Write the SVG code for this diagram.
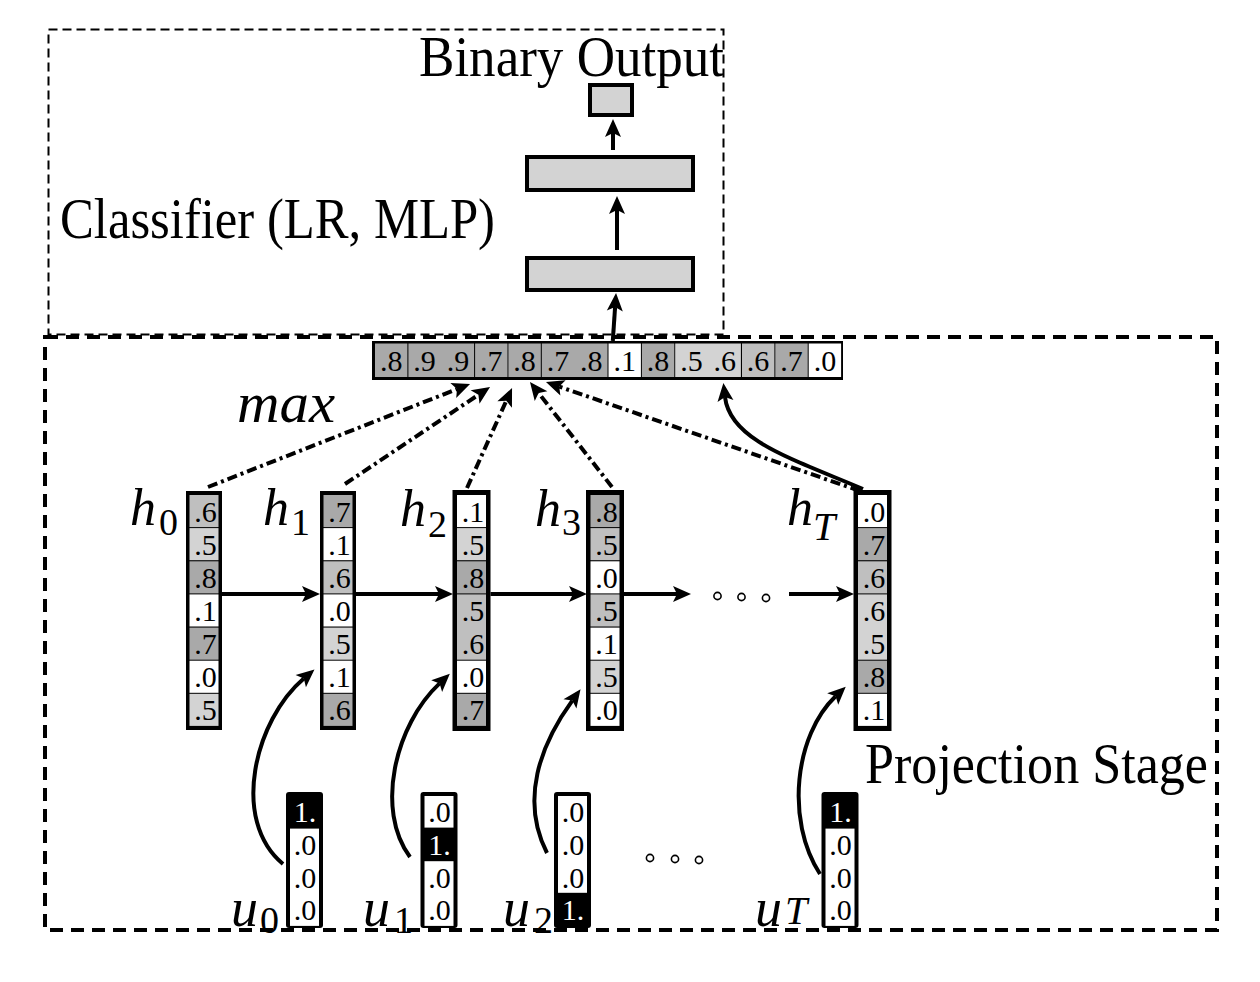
<svg xmlns="http://www.w3.org/2000/svg" width="1260" height="982" viewBox="0 0 1260 982">
<defs>
<style>
.lbl{font-family:"Liberation Serif",serif;fill:#000}
.it{font-style:italic}
.cell{font-family:"Liberation Serif",serif;font-size:30px;text-anchor:middle;fill:#000}
.cw{fill:#fff}
.conn{fill:none;stroke:#000;stroke-width:4}
.dd{stroke-dasharray:10 4 3 4}
.dk{fill:#a9a9a9}.md{fill:#bfbfbf}.lt{fill:#d3d3d3}.wh{fill:#fff}
.box{fill:#d3d3d3;stroke:#000;stroke-width:4}
.dot{fill:#fff;stroke:#000;stroke-width:1.6}
</style>
<marker id="ah" markerUnits="userSpaceOnUse" viewBox="-2 -10 24 20" markerWidth="24" markerHeight="20" refX="4" refY="0" orient="auto">
<path d="M0,-8 L18,0 L0,8 L4,0 Z" fill="#000"/>
</marker>
</defs>
<rect width="1260" height="982" fill="#fff"/>

<!-- containers -->
<g id="classifier-stage">
<rect x="48.5" y="29.5" width="675" height="305" fill="none" stroke="#000" stroke-width="2" stroke-dasharray="9 5"/>
<text class="lbl" x="60" y="238" font-size="57" textLength="435" lengthAdjust="spacingAndGlyphs">Classifier (LR, MLP)</text>
</g>
<g id="projection-stage">
<rect x="45" y="337" width="1172" height="593" fill="none" stroke="#000" stroke-width="4" stroke-dasharray="13 8"/>
<text class="lbl" x="865" y="783" font-size="57" textLength="343" lengthAdjust="spacingAndGlyphs">Projection Stage</text>
</g>
<g id="binary-output">
<text class="lbl" x="419" y="76" font-size="57" textLength="305" lengthAdjust="spacingAndGlyphs">Binary Output</text>
<rect class="box" x="590" y="85" width="42" height="30"/>
</g>
<g id="layer2"><rect class="box" x="527" y="157" width="166" height="33"/></g>
<g id="layer1"><rect class="box" x="527" y="258" width="166" height="32"/></g>

<!-- max-pooled vector -->
<g id="max-vector">
<rect x="372" y="341" width="471" height="39" fill="#000"/>
<rect class="dk" x="375" y="343.5" width="32.4" height="33.5"/>
<rect class="dk" x="408.4" y="343.5" width="65.7" height="33.5"/>
<rect class="dk" x="475.1" y="343.5" width="32.4" height="33.5"/>
<rect class="dk" x="508.4" y="343.5" width="32.4" height="33.5"/>
<rect class="dk" x="541.8" y="343.5" width="65.7" height="33.5"/>
<rect class="wh" x="608.5" y="343.5" width="32.4" height="33.5"/>
<rect class="dk" x="641.9" y="343.5" width="32.4" height="33.5"/>
<rect class="lt" x="675.2" y="343.5" width="65.7" height="33.5"/>
<rect class="md" x="742" y="343.5" width="32.4" height="33.5"/>
<rect class="dk" x="775.3" y="343.5" width="32.4" height="33.5"/>
<rect class="wh" x="808.7" y="343.5" width="32.4" height="33.5"/>
<text class="cell" y="371"><tspan x="391.2">.8</tspan><tspan x="424.5">.9</tspan><tspan x="457.9">.9</tspan><tspan x="491.3">.7</tspan><tspan x="524.6">.8</tspan><tspan x="558">.7</tspan><tspan x="591.3">.8</tspan><tspan x="624.7">.1</tspan><tspan x="658.1">.8</tspan><tspan x="691.4">.5</tspan><tspan x="724.8">.6</tspan><tspan x="758.1">.6</tspan><tspan x="791.5">.7</tspan><tspan x="824.9">.0</tspan></text>
<text class="lbl it" x="237" y="422" font-size="56" textLength="98" lengthAdjust="spacingAndGlyphs">max</text>
</g>

<!-- hidden states -->
<g id="h0">
<rect x="186" y="491" width="36" height="239" fill="#000"/>
<rect class="md" x="189.5" y="495" width="29" height="32.1"/>
<rect class="lt" x="189.5" y="528.1" width="29" height="32.1"/>
<rect class="dk" x="189.5" y="561.3" width="29" height="32.1"/>
<rect class="wh" x="189.5" y="594.4" width="29" height="32.1"/>
<rect class="dk" x="189.5" y="627.6" width="29" height="32.1"/>
<rect class="wh" x="189.5" y="660.7" width="29" height="32.1"/>
<rect class="lt" x="189.5" y="693.8" width="29" height="32.1"/>
<text class="cell"><tspan x="205.5" y="521.5">.6</tspan><tspan x="205.5" y="554.7">.5</tspan><tspan x="205.5" y="587.8">.8</tspan><tspan x="205.5" y="621">.1</tspan><tspan x="205.5" y="654.1">.7</tspan><tspan x="205.5" y="687.3">.0</tspan><tspan x="205.5" y="720.4">.5</tspan></text>
<text class="lbl it" font-size="52"><tspan x="130" y="525">h</tspan><tspan x="159" y="535" font-size="38" font-style="normal">0</tspan></text>
</g>
<g id="h1">
<rect x="320" y="491" width="36" height="239" fill="#000"/>
<rect class="dk" x="323.5" y="495" width="29" height="32.1"/>
<rect class="wh" x="323.5" y="528.1" width="29" height="32.1"/>
<rect class="md" x="323.5" y="561.3" width="29" height="32.1"/>
<rect class="wh" x="323.5" y="594.4" width="29" height="32.1"/>
<rect class="lt" x="323.5" y="627.6" width="29" height="32.1"/>
<rect class="wh" x="323.5" y="660.7" width="29" height="32.1"/>
<rect class="dk" x="323.5" y="693.8" width="29" height="32.1"/>
<text class="cell"><tspan x="339.5" y="521.5">.7</tspan><tspan x="339.5" y="554.7">.1</tspan><tspan x="339.5" y="587.8">.6</tspan><tspan x="339.5" y="621">.0</tspan><tspan x="339.5" y="654.1">.5</tspan><tspan x="339.5" y="687.3">.1</tspan><tspan x="339.5" y="720.4">.6</tspan></text>
<text class="lbl it" font-size="52"><tspan x="263" y="525">h</tspan><tspan x="291" y="535" font-size="38" font-style="normal">1</tspan></text>
</g>
<g id="h2">
<rect x="452.5" y="490" width="38" height="241" fill="#000"/>
<rect class="wh" x="457" y="495" width="29" height="32.1"/>
<rect class="lt" x="457" y="528.1" width="29" height="32.1"/>
<rect class="dk" x="457" y="561.3" width="29" height="32.1"/>
<rect class="md" x="457" y="594.4" width="29" height="65.3"/>
<rect class="wh" x="457" y="660.7" width="29" height="32.1"/>
<rect class="dk" x="457" y="693.8" width="29" height="32.1"/>
<text class="cell"><tspan x="473" y="521.5">.1</tspan><tspan x="473" y="554.7">.5</tspan><tspan x="473" y="587.8">.8</tspan><tspan x="473" y="621">.5</tspan><tspan x="473" y="654.1">.6</tspan><tspan x="473" y="687.3">.0</tspan><tspan x="473" y="720.4">.7</tspan></text>
<text class="lbl it" font-size="52"><tspan x="400" y="526">h</tspan><tspan x="428" y="537" font-size="38" font-style="normal">2</tspan></text>
</g>
<g id="h3">
<rect x="586" y="490" width="38" height="241" fill="#000"/>
<rect class="dk" x="590.5" y="495" width="29" height="32.1"/>
<rect class="md" x="590.5" y="528.1" width="29" height="32.1"/>
<rect class="wh" x="590.5" y="561.3" width="29" height="32.1"/>
<rect class="md" x="590.5" y="594.4" width="29" height="32.1"/>
<rect class="wh" x="590.5" y="627.6" width="29" height="32.1"/>
<rect class="lt" x="590.5" y="660.7" width="29" height="32.1"/>
<rect class="wh" x="590.5" y="693.8" width="29" height="32.1"/>
<text class="cell"><tspan x="606.5" y="521.5">.8</tspan><tspan x="606.5" y="554.7">.5</tspan><tspan x="606.5" y="587.8">.0</tspan><tspan x="606.5" y="621">.5</tspan><tspan x="606.5" y="654.1">.1</tspan><tspan x="606.5" y="687.3">.5</tspan><tspan x="606.5" y="720.4">.0</tspan></text>
<text class="lbl it" font-size="52"><tspan x="535" y="526">h</tspan><tspan x="562" y="535" font-size="38" font-style="normal">3</tspan></text>
</g>
<g id="hT">
<rect x="853.5" y="490" width="38" height="241" fill="#000"/>
<rect class="wh" x="858" y="495" width="29" height="32.1"/>
<rect class="dk" x="858" y="528.1" width="29" height="32.1"/>
<rect class="md" x="858" y="561.3" width="29" height="32.1"/>
<rect class="lt" x="858" y="594.4" width="29" height="65.3"/>
<rect class="dk" x="858" y="660.7" width="29" height="32.1"/>
<rect class="wh" x="858" y="693.8" width="29" height="32.1"/>
<text class="cell"><tspan x="874" y="521.5">.0</tspan><tspan x="874" y="554.7">.7</tspan><tspan x="874" y="587.8">.6</tspan><tspan x="874" y="621">.6</tspan><tspan x="874" y="654.1">.5</tspan><tspan x="874" y="687.3">.8</tspan><tspan x="874" y="720.4">.1</tspan></text>
<text class="lbl it" font-size="52"><tspan x="787" y="525">h</tspan><tspan x="813" y="540" font-size="40">T</tspan></text>
</g>

<!-- inputs -->
<g id="u0">
<rect x="286" y="792" width="37" height="136" rx="3" fill="#000"/>
<rect class="wh" x="290" y="828.6" width="29" height="97.3"/>
<text class="cell"><tspan class="cw" x="305" y="822.3">1.</tspan><tspan x="305" y="854.9">.0</tspan><tspan x="305" y="887.5">.0</tspan><tspan x="305" y="920.1">.0</tspan></text>
<text class="lbl it" font-size="54"><tspan x="231" y="926">u</tspan><tspan x="260" y="933" font-size="38" font-style="normal">0</tspan></text>
</g>
<g id="u1">
<rect x="420.5" y="792" width="37" height="136" rx="3" fill="#000"/>
<rect class="wh" x="424.5" y="796" width="29" height="31.6"/>
<rect class="wh" x="424.5" y="861.2" width="29" height="64.7"/>
<text class="cell"><tspan x="439.5" y="822.3">.0</tspan><tspan class="cw" x="439.5" y="854.9">1.</tspan><tspan x="439.5" y="887.5">.0</tspan><tspan x="439.5" y="920.1">.0</tspan></text>
<text class="lbl it" font-size="54"><tspan x="363" y="926">u</tspan><tspan x="394" y="933" font-size="38" font-style="normal">1</tspan></text>
</g>
<g id="u2">
<rect x="554" y="792" width="37" height="136" rx="3" fill="#000"/>
<rect class="wh" x="558" y="796" width="29" height="96.8"/>
<text class="cell"><tspan x="573" y="822.3">.0</tspan><tspan x="573" y="854.9">.0</tspan><tspan x="573" y="887.5">.0</tspan><tspan class="cw" x="573" y="920.1">1.</tspan></text>
<text class="lbl it" font-size="54"><tspan x="503" y="926">u</tspan><tspan x="534" y="933" font-size="38" font-style="normal">2</tspan></text>
</g>
<g id="uT">
<rect x="821.5" y="792" width="37" height="136" rx="3" fill="#000"/>
<rect class="wh" x="825.5" y="828.6" width="29" height="97.3"/>
<text class="cell"><tspan class="cw" x="840.5" y="822.3">1.</tspan><tspan x="840.5" y="854.9">.0</tspan><tspan x="840.5" y="887.5">.0</tspan><tspan x="840.5" y="920.1">.0</tspan></text>
<text class="lbl it" font-size="54"><tspan x="755" y="926">u</tspan><tspan x="785" y="924" font-size="40">T</tspan></text>
</g>

<!-- ellipsis dots -->
<g id="ellipsis-h">
<circle class="dot" cx="717.5" cy="596" r="3.6"/>
<circle class="dot" cx="741.5" cy="597" r="3.6"/>
<circle class="dot" cx="766" cy="598" r="3.6"/>
</g>
<g id="ellipsis-u">
<circle class="dot" cx="650" cy="858" r="3.6"/>
<circle class="dot" cx="675" cy="859" r="3.6"/>
<circle class="dot" cx="699" cy="860" r="3.6"/>
</g>

<!-- connectors -->
<g id="connectors">
<path class="conn" d="M613,150 L613,133" marker-end="url(#ah)"/>
<path class="conn" d="M617,250 L617,210" marker-end="url(#ah)"/>
<path class="conn" d="M612.8,341 L615.1,307" marker-end="url(#ah)"/>

<path class="conn" d="M222,594 L306,594" marker-end="url(#ah)"/>
<path class="conn" d="M356,594 L439,594" marker-end="url(#ah)"/>
<path class="conn" d="M490.5,594 L573,594" marker-end="url(#ah)"/>
<path class="conn" d="M624,594 L677,594" marker-end="url(#ah)"/>
<path class="conn" d="M789,594 L840,594" marker-end="url(#ah)"/>

<path class="conn dd" d="M208,487 L457,389.1" marker-end="url(#ah)"/>
<path class="conn dd" d="M345,484 L478.4,394.8" marker-end="url(#ah)"/>
<path class="conn dd" d="M467,488 L506.3,400.8" marker-end="url(#ah)"/>
<path class="conn dd" d="M612,487 L538.6,393" marker-end="url(#ah)"/>
<path class="conn dd" d="M860,491 L559.2,386.6" marker-end="url(#ah)"/>
<path class="conn" d="M863,489 C 790,458 730,440 725,397" marker-end="url(#ah)"/>

<path class="conn" d="M283,864 C 230,820 255,720 303.8,678.5" marker-end="url(#ah)"/>
<path class="conn" d="M410,857 C 375,810 395,725 439.6,683.4" marker-end="url(#ah)"/>
<path class="conn" d="M547,853 C 520,800 540,745 572.3,700.6" marker-end="url(#ah)"/>
<path class="conn" d="M820,874 C 785,820 795,735 835.6,696.3" marker-end="url(#ah)"/>
</g>
</svg>
